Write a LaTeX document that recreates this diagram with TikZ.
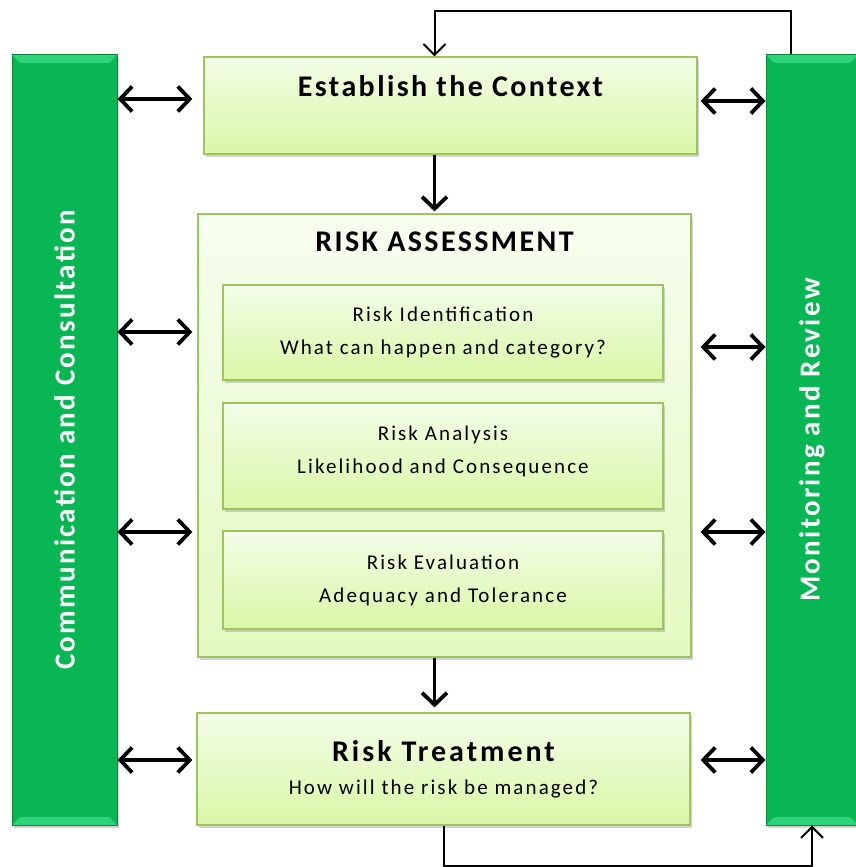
\documentclass[tikz,border=0pt]{standalone}
\usepackage{fontspec}
\setmainfont{Carlito}[LetterSpace=8]
\newfontfamily\smallfont{Carlito}[LetterSpace=10]
\usetikzlibrary{positioning,shadows,arrows.meta}
\definecolor{boxtop}{HTML}{F3FDE8}
\definecolor{boxbot}{HTML}{DAF7A6}
\definecolor{boxline}{HTML}{9CC55E}
\definecolor{barfill}{HTML}{08B753}
\definecolor{barline}{HTML}{07893E}
\definecolor{barhi}{HTML}{2FD27A}
\newcommand{\bigtxt}{\fontsize{30}{36}\selectfont\bfseries}
\newcommand{\bartxt}{\fontsize{29}{34}\selectfont\bfseries}
\newcommand{\smalltxt}{\smallfont\fontsize{21}{33}\selectfont}

\begin{document}
\begin{tikzpicture}[x=1pt,y=-1pt,
stage/.style={draw=boxline,line width=1.2pt,top color=boxtop,bottom color=boxbot,drop shadow={opacity=0.35,shadow xshift=2pt,shadow yshift=-3pt},inner sep=0pt,align=center},
side/.style={draw=barline,line width=1pt,fill=barfill,drop shadow={opacity=0.35,shadow xshift=2pt,shadow yshift=-3pt},minimum height=770pt,inner sep=0pt,
  path picture={\fill[barhi] (path picture bounding box.north west) -- (path picture bounding box.north east) -- ([xshift=-8pt,yshift=-8pt]path picture bounding box.north east) -- ([xshift=8pt,yshift=-8pt]path picture bounding box.north west) -- cycle;
                \fill[barhi] (path picture bounding box.south west) -- (path picture bounding box.south east) -- ([xshift=-8pt,yshift=8pt]path picture bounding box.south east) -- ([xshift=8pt,yshift=8pt]path picture bounding box.south west) -- cycle;}},
both/.style={{Straight Barb[length=12pt,width=25pt]}-{Straight Barb[length=12pt,width=25pt]},line width=3.8pt},
down/.style={-{Straight Barb[length=12pt,width=25pt]},line width=3.8pt},
loop/.style={-{Straight Barb[length=11pt,width=22pt]},line width=2pt}
]
\useasboundingbox (0,0) rectangle (856,867);

% side bars
\node[side,minimum width=105pt,label={[rotate=90,anchor=center,text=white,font=\bartxt]center:Communication and Consultation}] (comm) at (64.5,440) {};
\node[side,minimum width=92pt,label={[rotate=90,anchor=center,text=white,font=\bartxt]center:Monitoring and Review}] (mon) at (812,440) {};

% process boxes
\node[stage,minimum width=493pt,minimum height=97pt,label={[anchor=north,yshift=-16pt,font=\bigtxt]north:Establish the Context}] (ctx) at (450.5,105.5) {};
\node[stage,minimum width=493pt,minimum height=443pt,top color=boxtop!70!white,bottom color=boxbot!60!boxtop,label={[anchor=north,yshift=-15pt,font=\bigtxt]north:RISK ASSESSMENT}] (ra) at (444.5,435.5) {};
\node[stage,minimum width=440pt,minimum height=95pt,font=\smalltxt] (ident) at (443,332.5) {Risk Identification\\What can happen and category?};
\node[stage,minimum width=440pt,minimum height=106pt,font=\smalltxt] (anal) at (443,456) {Risk Analysis\\Likelihood and Consequence\\[-20pt]};
\node[stage,minimum width=440pt,minimum height=98pt,font=\smalltxt] (eval) at (443,580) {Risk Evaluation\\Adequacy and Tolerance};
\node[stage,minimum width=493pt,minimum height=112pt,font=\smalltxt] (treat) at (443.5,769) {{\bigtxt Risk Treatment}\\How will the risk be managed?};

% flow
\draw[down] ([xshift=-16pt]ctx.south) -- ([xshift=-16pt,yshift=2pt]ctx.south |- ra.north);
\draw[down] ([xshift=-10pt]ra.south) -- ([xshift=-10pt,yshift=5pt]ra.south |- treat.north);
\draw[loop] ([xshift=-21pt]mon.north) -- ++(0,-43) -| ([xshift=-16pt]ctx.north);
\draw[loop] (treat.south) -- ++(0,40) -| (mon.south);

% links to the side bars
\draw[both] (comm.east |- 0,99) -- ([xshift=-11pt]ctx.west |- 0,99);
\draw[both] (comm.east |- 0,332) -- ([xshift=-5pt]ra.west |- 0,332);
\draw[both] (comm.east |- 0,532) -- ([xshift=-5pt]ra.west |- 0,532);
\draw[both] (comm.east |- 0,760) -- ([xshift=-4pt]treat.west |- 0,760);
\draw[both] ([xshift=3pt]ctx.east |- 0,101) -- (mon.west |- 0,101);
\draw[both] ([xshift=9pt]ra.east |- 0,347) -- (mon.west |- 0,347);
\draw[both] ([xshift=9pt]ra.east |- 0,532) -- (mon.west |- 0,532);
\draw[both] ([xshift=10pt]treat.east |- 0,760) -- (mon.west |- 0,760);
\end{tikzpicture}
\end{document}
